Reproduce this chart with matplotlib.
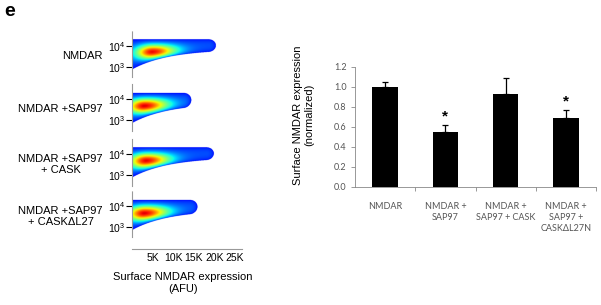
import numpy as np
import matplotlib
matplotlib.use('Agg')
import matplotlib.pyplot as plt
from matplotlib.transforms import blended_transform_factory

plt.rcParams['font.family'] = ['Liberation Sans', 'DejaVu Sans']
plt.rcParams['mathtext.default'] = 'regular'

# flow cytometry panels (x in K AFU, y in log10)
flow_labels = ['NMDAR', 'NMDAR +SAP97', 'NMDAR +SAP97\n+ CASK', 'NMDAR +SAP97\n+ CASK\u0394L27']
peak_x = [5.0, 3.0, 3.5, 3.0]
peak_y = [3.65, 3.62, 3.62, 3.6]
top_y = [4.28, 4.25, 4.28, 4.25]
tail_x = [20.5, 14.5, 20.0, 16.0]
flow_xticks = [5, 10, 15, 20, 25]
flow_xticklabels = ['5K', '10K', '15K', '20K', '25K']

# bar chart
bar_labels = ['NMDAR', 'NMDAR +\nSAP97', 'NMDAR +\nSAP97 + CASK', 'NMDAR +\nSAP97 +\nCASK\u0394L27N']
bar_values = [1.00, 0.55, 0.93, 0.69]
bar_errors = [0.05, 0.07, 0.16, 0.08]
significant = [False, True, False, True]

W, H = 601, 305
fig = plt.figure(figsize=(W / 100, H / 100), dpi=100)


def px_axes(left, top, right, bottom):
    # axes from pixel box (top-left origin)
    return fig.add_axes([left / W, 1 - bottom / H, (right - left) / W, (bottom - top) / H])


fig.text(4 / W, 1 - 11 / H, 'e', fontsize=14, fontweight='bold', va='center', ha='left')

# ---- left: density plots ----
gx = np.linspace(0, 27, 400)
gy = np.linspace(2.5, 4.7, 220)
X, Y = np.meshgrid(gx, gy)
tick4 = [46, 99, 154, 206]   # pixel row of 10^4 tick in each panel
dec = 21.0                   # pixels per decade
cm = plt.get_cmap('jet').copy()
cm.set_bad((1, 1, 1, 0))

for i in range(4):
    top = tick4[i] - 0.7 * dec
    bot = tick4[i] + 1.5 * dec
    ax = px_axes(132, top, 243, bot)
    xp, yp, xe, yt = peak_x[i], peak_y[i], tail_x[i], top_y[i]
    # half height shrinks along the tail, top edge stays flat
    h = 0.25 + 0.47 * np.exp(-X / 9.0)
    c = yt - h
    cap = 1.8
    endterm = (np.clip(X - (xe - cap), 0, None) / cap) ** 2
    r = ((Y - c) / h) ** 2 + endterm
    inside = 1 - r
    # colour intensity: peaks at the core, falls off along the tail
    core = np.exp(-((X - xp) / np.where(X > xp, 6.0, 4.0)) ** 2 - ((Y - yp) / 0.38) ** 2)
    val = np.clip(inside, 0, None) ** 0.6 * (0.1 + 0.9 * core)
    val = 0.12 + 0.8 * val
    val = np.ma.masked_where(inside <= 0, val)
    ax.imshow(val, extent=[0, 27, 2.5, 4.7], origin='lower', aspect='auto',
              cmap=cm, vmin=0, vmax=1, interpolation='bilinear')
    ax.set_xlim(0, 27)
    ax.set_ylim(2.5, 4.7)
    for s in ['top', 'right', 'bottom']:
        ax.spines[s].set_visible(False)
    ax.spines['left'].set_linestyle((0, (1, 1)))
    ax.spines['left'].set_color('#999999')
    ax.set_xticks([])
    ax.set_yticks([3, 4])
    ax.set_yticklabels(['$10^3$', '$10^4$'], fontsize=7.5)
    ax.tick_params(axis='y', length=4, width=0.8, pad=1, color='black')
    tr = blended_transform_factory(fig.transFigure, ax.transData)
    ax.text(103 / W, 3.5, flow_labels[i], transform=tr, ha='right', va='center',
            multialignment='center', fontsize=8, linespacing=1.15)

axx = px_axes(132, 240, 243, 249)
axx.set_xlim(0, 27)
axx.set_yticks([])
for s in ['top', 'right', 'left']:
    axx.spines[s].set_visible(False)
axx.spines['bottom'].set_linestyle((0, (1, 1)))
axx.spines['bottom'].set_color('#999999')
axx.set_xticks(flow_xticks)
axx.set_xticklabels(flow_xticklabels, fontsize=7.5)
axx.tick_params(axis='x', length=0, pad=3)
axx.patch.set_alpha(0)
fig.text(183 / W, 1 - 283 / H, 'Surface NMDAR expression\n(AFU)', ha='center', va='center',
         fontsize=8, linespacing=1.25)

# ---- right: bar chart ----
ax2 = px_axes(355, 67, 596, 187)
pos = np.arange(len(bar_values))
ax2.bar(pos, bar_values, width=0.42, color='black', zorder=2)
ax2.errorbar(pos, bar_values, yerr=[np.zeros(len(bar_errors)), bar_errors], fmt='none',
             ecolor='black', elinewidth=0.9, capsize=2.5, capthick=0.9, zorder=3)
for p, val, e, s in zip(pos, bar_values, bar_errors, significant):
    if s:
        ax2.text(p, val + e + 0.015, '*', ha='center', va='bottom', fontsize=11,
                 fontweight='bold')
ax2.set_xlim(-0.5, len(bar_values) - 0.5)
ax2.set_ylim(0, 1.2)
ax2.set_yticks(np.arange(0, 1.21, 0.2))
ax2.set_yticklabels(['%.1f' % y for y in np.arange(0, 1.21, 0.2)])
ax2.set_xticks(pos)
ax2.set_xticklabels(bar_labels, fontfamily='Lato', linespacing=1.25)
ax2.set_xticks(np.arange(0.5, len(bar_values)), minor=True)
ax2.tick_params(axis='x', which='major', length=0, pad=11, labelsize=6.5, labelcolor='#555555')
ax2.tick_params(axis='x', which='minor', length=3, color='#888888', width=0.6)
ax2.tick_params(axis='y', length=3, color='#888888', width=0.6, labelsize=6.5,
                labelcolor='#555555', pad=3)
for lab in ax2.get_yticklabels():
    lab.set_fontfamily('Lato')
for s in ['top', 'right']:
    ax2.spines[s].set_visible(False)
for s in ['left', 'bottom']:
    ax2.spines[s].set_color('#888888')
    ax2.spines[s].set_linewidth(0.6)
ax2.set_ylabel('Surface NMDAR expression\n(normalized)', fontsize=8, linespacing=1.2)
ax2.yaxis.set_label_coords(-0.168, 0.6)

fig.savefig('out.png', dpi=100)
